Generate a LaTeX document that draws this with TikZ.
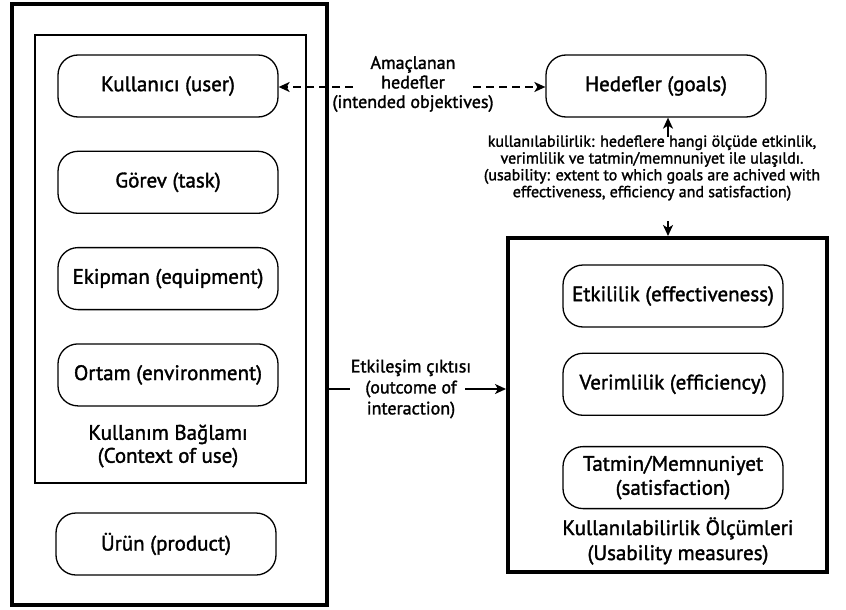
\documentclass[tikz,border=0pt]{standalone}
\usepackage{fontspec}
\setmainfont{PT Sans}[FakeBold=1.6]
\usetikzlibrary{arrows.meta, positioning, backgrounds}

\begin{document}
\begin{tikzpicture}[x=1pt, y=-1pt, >={Stealth[length=11pt, width=10pt, inset=3pt]}, semithick, node distance=33pt]

%====Stili=====================================================================

	\tikzstyle{box}=[draw, line width=1.3pt, rounded corners=20pt, minimum width=220pt, minimum height=62pt, align=center, font=\fontsize{21}{24}\selectfont]
	\tikzstyle{frame}=[draw, line width=4pt]
	\tikzstyle{thinframe}=[draw, line width=2pt]
	\tikzstyle{caption}=[align=center, font=\fontsize{21}{23}\selectfont]
	\tikzstyle{note}=[align=center, font=\fontsize{18}{19.5}\selectfont]
	\tikzstyle{link}=[line width=1.6pt]

	\useasboundingbox (0,0) rectangle (846,610);

%====Cornici===================================================================

	\node[frame, minimum width=315pt, minimum height=601pt]		(ctx)   at (169.5,304.5) {};
	\node[thinframe, minimum width=271pt, minimum height=448pt]	(use)   at (170.5,259)   {};
	\node[frame, minimum width=319pt, minimum height=334pt]		(meas)  at (667.5,405)   {};

%====Riquadri==================================================================

	\node[box]	(user)  at (168,86)         {Kullanıcı (user)};
	\node[box]	(task)  [below=of user]     {Görev (task)};
	\node[box]	(equip) [below=of task]     {Ekipman (equipment)};
	\node[box]	(env)   [below=of equip]    {Ortam (environment)};
	\node[box]	(prod)  at (166,544)        {Ürün (product)};
	\node[caption]	(usecap) at (168,446)   {Kullanım Bağlamı\\(Context of use)};

	\node[box]	(goals) at (656,86)         {Hedefler (goals)};

	\node[box]	(effect) at (673,296)               {Etkililik (effectiveness)};
	\node[box]	(effic)  [below=25pt of effect]     {Verimlilik (efficiency)};
	\node[box]	(satis)  [below=30pt of effic]      {Tatmin/Memnuniyet\\(satisfaction)};
	\node[caption, font=\fontsize{21}{25}\selectfont]	(meascap) at (678,541) {Kullanılabilirlik Ölçümleri\\(Usability measures)};

%====Etichette e collegamenti=================================================

	\node[note] (intent) at (413,84) {Amaçlanan\\hedefler\\(intended objektives)};
	\coordinate (intentL) at (353,87);
	\coordinate (intentR) at (473,87);
	\draw[link, ->, dash pattern=on 8pt off 5pt] (intentL) -- (user.east|-intentL);
	\draw[link, ->, dash pattern=on 8pt off 5pt] (intentR) -- (goals.west|-intentR);

	\node[note, font=\fontsize{16}{16.8}\selectfont] (usab) at (652,168) {kullanılabilirlik: hedeflere hangi ölçüde etkinlik,\\verimlilik ve tatmin/memnuniyet ile ulaşıldı.\\(usability: extent to which goals are achived with\\effectiveness, efficiency and satisfaction)};
	\coordinate (usabT) at (668,137);
	\coordinate (usabB) at (668,221);
	\draw[link, ->] (usabT) -- (usabT|-goals.south);
	\draw[link, ->] (usabB) -- (usabB|-meas.north);

	\node[note, font=\fontsize{18}{21}\selectfont] (outcome) at (411,389) {Etkileşim çıktısı\\(outcome of\\interaction)};
	\coordinate (outL) at (350,389);
	\coordinate (outR) at (465,389);
	\draw[link] (ctx.east|-outL) -- (outL);
	\draw[link, ->] (outR) -- (meas.west|-outR);

\end{tikzpicture}
\end{document}
